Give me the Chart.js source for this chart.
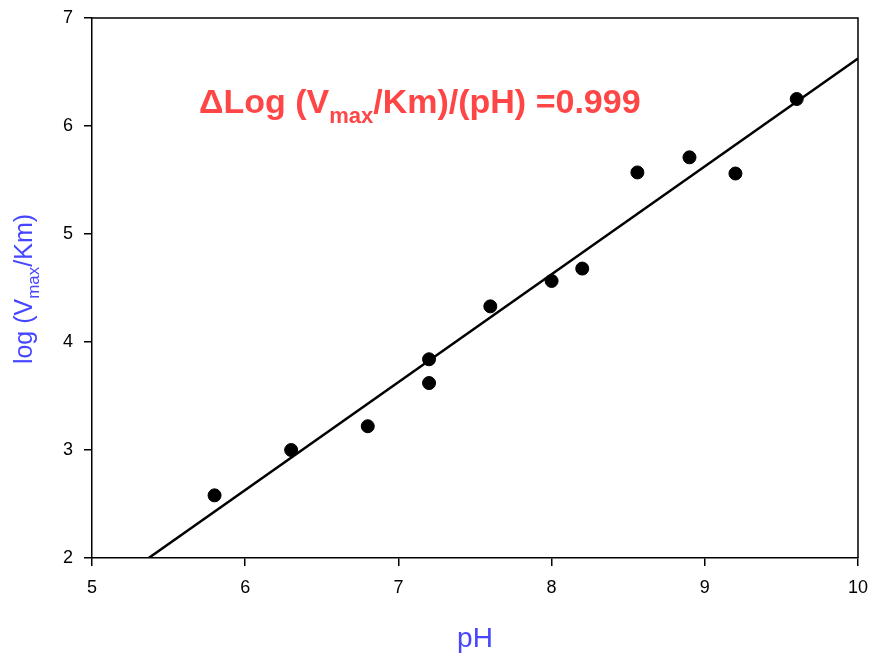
<!DOCTYPE html>
<html><head><meta charset="utf-8">
<script src="https://cdn.jsdelivr.net/npm/chart.js@4/dist/chart.umd.min.js"></script>
<style>html,body{margin:0;padding:0;background:#fff}#wrap{width:875px;height:655px}</style>
</head><body><div id="wrap"><canvas id="c" width="875" height="655"></canvas></div>
<script>
const phValues  = [5.8, 6.3, 6.8, 7.2, 7.2, 7.6, 8.0, 8.2, 8.56, 8.9, 9.2, 9.6];
const logValues = [2.58, 3.0, 3.22, 3.84, 3.62, 4.33, 4.565, 4.68, 5.57, 5.71, 5.56, 6.25];
const fitX = [5.37, 10];
const fitY = [2.0, 6.625];
const xTicks = [5, 6, 7, 8, 9, 10];
const yTicks = [2, 3, 4, 5, 6, 7];

const BLUE = '#4646ff', RED = '#ff4646';
const FONT = '"Liberation Sans", Arial, sans-serif';

const decor = {
  id: 'decor',
  afterDraw(chart) {
    const ctx = chart.ctx, a = chart.chartArea;
    ctx.save();
    ctx.strokeStyle = '#000'; ctx.lineWidth = 1.5;
    ctx.beginPath();
    ctx.moveTo(a.left, a.top); ctx.lineTo(a.right, a.top); ctx.lineTo(a.right, a.bottom);
    ctx.stroke();
    // annotation
    ctx.fillStyle = RED; ctx.textBaseline = 'alphabetic'; ctx.textAlign = 'left';
    let x = 199, y = 113;
    const big = 'bold 34px ' + FONT, small = 'bold 22px ' + FONT;
    ctx.font = big; ctx.fillText('\u0394Log (V', x, y); x += ctx.measureText('\u0394Log (V').width;
    ctx.font = small; ctx.fillText('max', x, y + 10); x += ctx.measureText('max').width;
    ctx.font = big; ctx.fillText('/Km)/(pH) =0.999', x, y);
    // x title
    ctx.fillStyle = BLUE; ctx.font = '28px ' + FONT; ctx.textAlign = 'center';
    ctx.fillText('pH', 475, 647);
    // y title rotated
    ctx.translate(32, (a.top + a.bottom) / 2 + 1);
    ctx.rotate(-Math.PI / 2);
    ctx.textAlign = 'left';
    const f1 = '25px ' + FONT, f2 = '17px ' + FONT;
    ctx.font = f1; const w1 = ctx.measureText('log (V').width, w3 = ctx.measureText('/Km)').width;
    ctx.font = f2; const w2 = ctx.measureText('max').width;
    let sx = -(w1 + w2 + w3) / 2;
    ctx.font = f1; ctx.fillText('log (V', sx, 0); sx += w1;
    ctx.font = f2; ctx.fillText('max', sx, 7); sx += w2;
    ctx.font = f1; ctx.fillText('/Km)', sx, 0);
    ctx.restore();
  }
};

function zeroPad(s) { s.paddingLeft = 0; s.paddingRight = 0; s.paddingTop = 0; s.paddingBottom = 0; }

new Chart(document.getElementById('c'), {
  type: 'scatter',
  data: {
    datasets: [
      { data: phValues.map((v, i) => ({ x: v, y: logValues[i] })), backgroundColor: '#000', borderColor: '#000',
        pointRadius: 6.5, pointHoverRadius: 6.5, order: 1 },
      { type: 'line', data: fitX.map((v, i) => ({ x: v, y: fitY[i] })), borderColor: '#000', borderWidth: 2.5,
        pointRadius: 0, fill: false, order: 2 }
    ]
  },
  plugins: [decor],
  options: {
    responsive: false, animation: false,
    layout: { padding: { left: 0, top: 18, right: 17, bottom: 0 } },
    plugins: { legend: { display: false }, tooltip: { enabled: false } },
    scales: {
      x: {
        type: 'linear', min: 5, max: 10,
        afterBuildTicks: s => { s.ticks = xTicks.map(v => ({ value: v })); },
        afterFit: s => { s.height = 97; zeroPad(s); },
        grid: { drawOnChartArea: false, drawTicks: true, tickLength: 8, color: '#000', lineWidth: 1.5 },
        border: { display: true, color: '#000', width: 1.5 },
        ticks: { color: '#000', font: { family: FONT, size: 18 }, padding: 11 }
      },
      y: {
        type: 'linear', min: 2, max: 7,
        afterBuildTicks: s => { s.ticks = yTicks.map(v => ({ value: v })); },
        afterFit: s => { s.width = 92; zeroPad(s); },
        grid: { drawOnChartArea: false, drawTicks: true, tickLength: 8, color: '#000', lineWidth: 1.5 },
        border: { display: true, color: '#000', width: 1.5 },
        ticks: { color: '#000', font: { family: FONT, size: 18 }, padding: 11 }
      }
    }
  }
});
</script></body></html>
